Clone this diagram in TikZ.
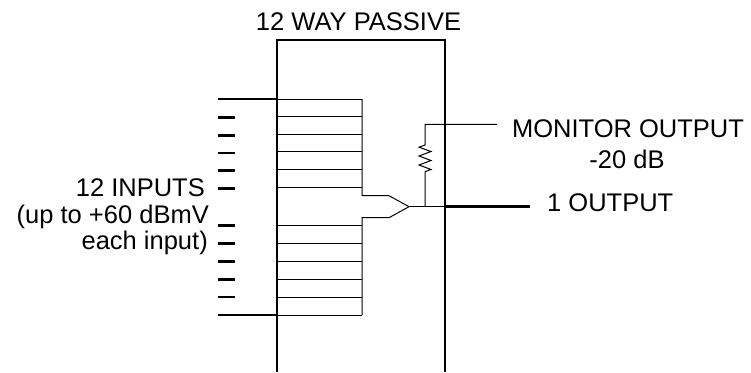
\documentclass[tikz,border=0pt]{standalone}
\usepackage{fontspec}
\setmainfont{Liberation Sans}
\begin{document}
\begin{tikzpicture}[x=1pt,y=-1pt,
  thick line/.style={line width=2.6pt},
  thin line/.style={line width=1pt},
  lbl/.style={inner sep=0pt,font=\fontsize{25.5}{30}\selectfont}]
\useasboundingbox (0,0) rectangle (751,372);
% box (open at bottom)
\draw[thick line] (277,372) -- (277,40) -- (445,40) -- (445,372);
% inputs
\foreach \k in {0,...,5} {
  \pgfmathsetmacro{\ya}{99+\k*17.66}
  \pgfmathsetmacro{\yb}{225.7+\k*17.86}
  \draw[thin line] (277,\ya) -- (362,\ya);
  \draw[thin line] (277,\yb) -- (362,\yb);
}
\foreach \y in {117.7,135.3,153,170.6,188.3,225.7,243.5,261.4,279.3,297.1} {
  \draw[thick line] (218,\y) -- (235,\y);
}
\draw[thick line] (218,99) -- (277,99);
\draw[thick line] (218,315) -- (277,315);
% combiner
\coordinate (tip) at (409,206.7);
\draw[thin line] (362,99) -- (362,195.7) -- (389,195.7) -- (tip);
\draw[thin line] (362,315) -- (362,217.7) -- (389,217.7) -- (tip);
% output
\coordinate (branch) at (425,206.7);
\draw[thin line] (tip) -- (445,206.7);
\draw[thick line] (445,206.7) -- (530,206.7);
% monitor tap with resistor
\draw[thin line] (branch) -- (425,171.7)
  -- (431,169.5) -- (419,165) -- (431,160.5) -- (419,156) -- (431,151.5) -- (419,147.2) -- (425,145)
  -- (425,124.3) -- (497,124.3);
% labels
\node[lbl,anchor=base] (title) at (358.5,30) {12 WAY PASSIVE};
\node[lbl,anchor=base] (mon) at (628,137.3) {MONITOR OUTPUT};
\node[lbl,anchor=base] (db) at (627,168.3) {-20 dB};
\node[lbl,anchor=base west] (out) at (547,211.7) {1 OUTPUT};
\node[lbl,anchor=base east] (in1) at (205,196.7) {12 INPUTS};
\node[lbl,anchor=base east] (in2) at (209,223) {(up to +60 dBmV};
\node[lbl,anchor=base east] (in3) at (208,249.5) {each input)};
\end{tikzpicture}
\end{document}
